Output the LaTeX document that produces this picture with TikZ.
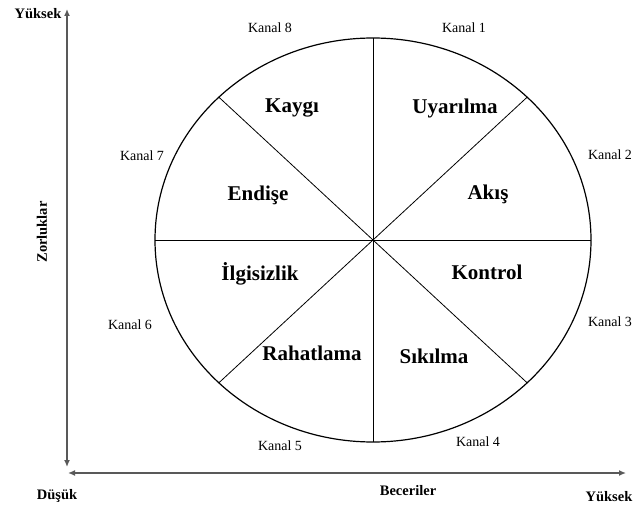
\documentclass[tikz,border=0pt]{standalone}
\usepackage{fontspec}
\setmainfont{Liberation Serif}
\usetikzlibrary{arrows.meta}
\begin{document}
\begin{tikzpicture}[x=1pt,y=1pt,
  kanal/.style={font=\fontsize{14}{16}\selectfont},
  zone/.style={font=\fontsize{21}{24}\selectfont\bfseries},
  axislabel/.style={font=\fontsize{14.5}{16}\selectfont\bfseries},
  axisline/.style={draw=black!65,line width=1.3pt,{Latex[length=7pt,width=6pt]}-{Latex[length=7pt,width=6pt]}}]
\useasboundingbox (0,0) rectangle (635,507);
\coordinate (c) at (373,267);
\draw[line width=1.2pt] (c) ellipse (218 and 202);
\foreach \a/\n in {0/e,45/ne,90/n,135/nw,180/w,225/sw,270/s,315/se}
  \coordinate (\n) at ([shift={({218*cos(\a)},{202*sin(\a)})}]c);
\draw[line width=0.8pt] (w) -- (e);
\draw[line width=0.8pt] (n) -- (s);
\draw[line width=0.8pt] (nw) -- (se);
\draw[line width=0.8pt] (ne) -- (sw);
\coordinate (top) at (67,498);
\coordinate (bot) at (67,40);
\coordinate (left) at (68,34);
\coordinate (right) at (626,34);
\draw[axisline] (bot) -- (top);
\draw[axisline] (left) -- (right);
\node[axislabel] (high1) at (38,493) {Yüksek};
\node[axislabel] (low) at (57,11) {Düşük};
\node[axislabel] (skill) at (408,16) {Beceriler};
\node[axislabel] (high2) at (609,10) {Yüksek};
\node[axislabel,rotate=90] (chal) at (42,275) {Zorluklar};
\node[kanal] (k8) at (270,479) {Kanal 8};
\node[kanal] (k1) at (464,479) {Kanal 1};
\node[kanal] (k2) at (610,352) {Kanal 2};
\node[kanal] (k7) at (142,351) {Kanal 7};
\node[kanal] (k6) at (130,182) {Kanal 6};
\node[kanal] (k3) at (610,185) {Kanal 3};
\node[kanal] (k5) at (280,61) {Kanal 5};
\node[kanal] (k4) at (478,65) {Kanal 4};
\node[zone] (z8) at (292,399) {Kaygı};
\node[zone] (z1) at (455,399) {Uyarılma};
\node[zone] (z7) at (258,312) {Endişe};
\node[zone] (z2) at (488,313) {Akış};
\node[zone] (z6) at (260,233) {İlgisizlik};
\node[zone] (z3) at (487,235) {Kontrol};
\node[zone] (z5) at (312,154) {Rahatlama};
\node[zone] (z4) at (434,151) {Sıkılma};
\end{tikzpicture}
\end{document}
